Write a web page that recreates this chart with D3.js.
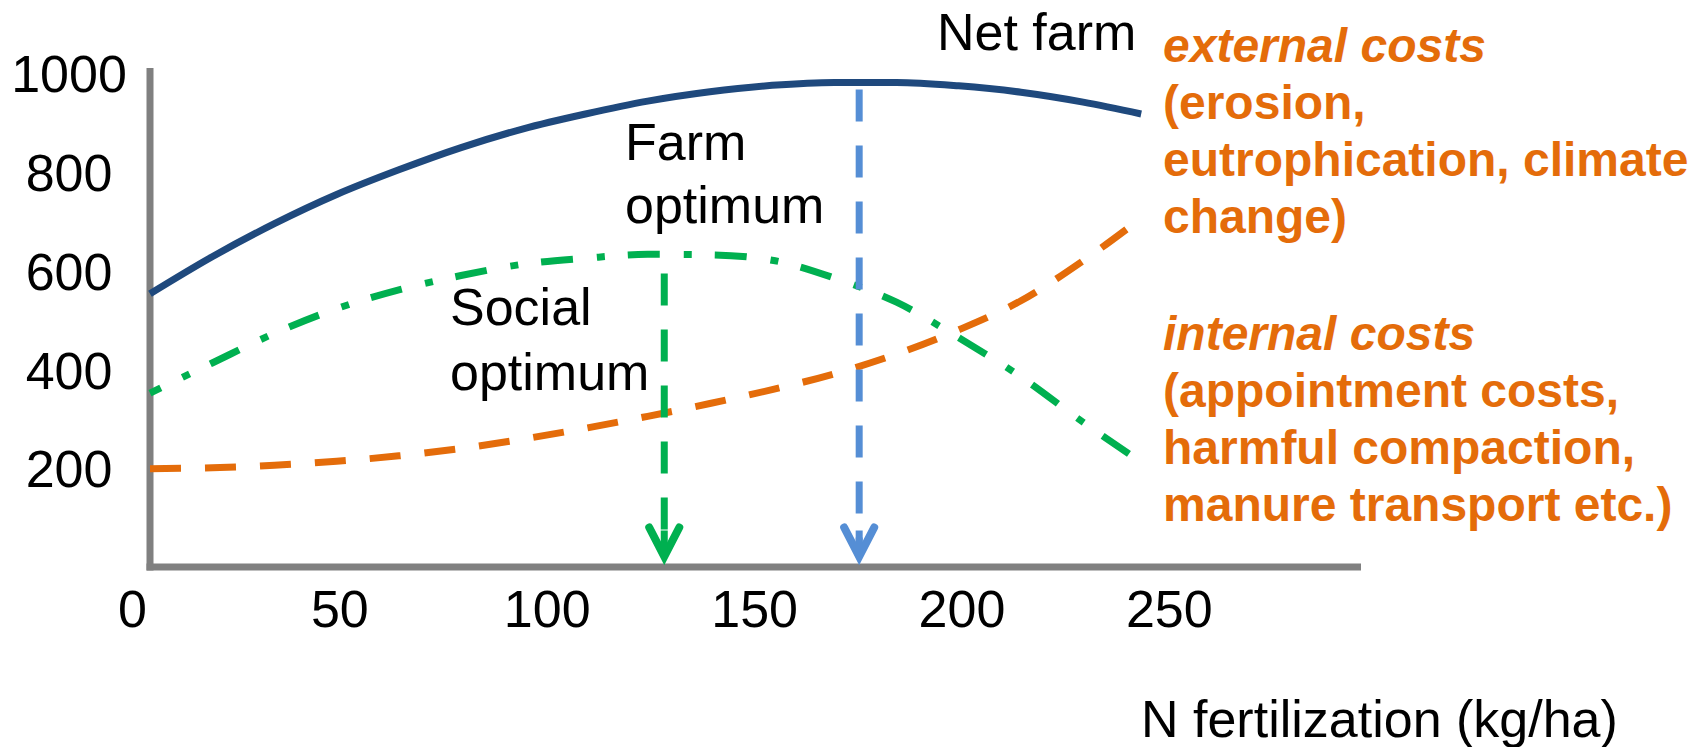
<!DOCTYPE html>
<html>
<head>
<meta charset="utf-8">
<script src="https://cdn.jsdelivr.net/npm/d3@7"></script>
<style>
  html, body { margin: 0; padding: 0; background: #ffffff; }
  svg { display: block; font-family: "Liberation Sans", Arial, Helvetica, sans-serif; }
</style>
</head>
<body>
<svg id="chart" width="1701" height="747"></svg>
<script>
// N application rates (kg/ha) at which the curves are sampled
const nRates = [0, 15, 30, 45, 60, 75, 90, 105, 120, 135, 150, 165, 180, 195, 210, 225, 239];
// Net farm return
const netFarm = [553, 628, 695, 754, 804, 849, 887, 917, 943, 962, 975, 981, 981, 974, 961, 941, 917];
// Net return once external costs are deducted
const socialNet = [352, 413, 473, 523, 561, 590, 613, 625, 633, 632, 621, 585, 536, 464, 385, 293, 212];
// Internal costs
const internalCosts = [199, 201, 206, 214, 225, 240, 259, 281, 305, 331, 359, 391, 431, 480, 539, 620, 706];

// Axis ticks
const xTicks = [0, 50, 100, 150, 200, 250];
const yTicks = [200, 400, 600, 800, 1000];

// N rates of the two optima
const socialOptimumN = 124;
const farmOptimumN = 171;

// Text blocks
const externalLines = ["external costs", "(erosion,", "eutrophication, climate", "change)"];
const internalLines = ["internal costs", "(appointment costs,", "harmful compaction,", "manure transport etc.)"];

const COLORS = {
  axis: "#808080",
  farm: "#1F497D",
  social: "#00B050",
  costs: "#E46C0A",
  farmOpt: "#558ED5",
  text: "#000000"
};

const svg = d3.select("#chart");

const x = d3.scaleLinear().domain([0, 292]).range([150, 1361]);
const y = d3.scaleLinear().domain([0, 1000]).range([567, 73]);

const axisW = 7;

// ---- axes ----
svg.append("line")
  .attr("x1", x(0)).attr("x2", x(0))
  .attr("y1", y(0) + axisW / 2).attr("y2", y(1000) - 5)
  .attr("stroke", COLORS.axis).attr("stroke-width", axisW);

svg.append("line")
  .attr("x1", x(0) - axisW / 2).attr("x2", x(292))
  .attr("y1", y(0)).attr("y2", y(0))
  .attr("stroke", COLORS.axis).attr("stroke-width", axisW);

const xAxis = svg.append("g")
  .attr("transform", `translate(0,${y(0)})`)
  .call(d3.axisBottom(x).tickValues(xTicks).tickSize(0).tickPadding(23).tickFormat(d3.format("d")));
xAxis.select(".domain").remove();
xAxis.selectAll("text")
  .attr("x", -18)
  .attr("font-size", 52)
  .attr("font-family", "'Liberation Sans', Arial, sans-serif")
  .attr("fill", COLORS.text);

const yAxis = svg.append("g")
  .attr("transform", `translate(${x(0)},0)`)
  .call(d3.axisLeft(y).tickValues(yTicks).tickSize(0).tickFormat(d3.format("d")));
yAxis.select(".domain").remove();
yAxis.selectAll("text")
  .attr("x", -81)
  .attr("dy", "0.36em")
  .attr("text-anchor", "middle")
  .attr("font-size", 52)
  .attr("font-family", "'Liberation Sans', Arial, sans-serif")
  .attr("fill", COLORS.text);

// ---- curves ----
const line = d3.line()
  .x(d => x(d.n))
  .y(d => y(d.v))
  .curve(d3.curveMonotoneX);

const series = (vals) => nRates.map((n, i) => ({ n, v: vals[i] }));

svg.append("path")
  .datum(series(internalCosts))
  .attr("d", line)
  .attr("fill", "none")
  .attr("stroke", COLORS.costs)
  .attr("stroke-width", 7)
  .attr("stroke-dasharray", "31,24");

svg.append("path")
  .datum(series(socialNet))
  .attr("d", line)
  .attr("fill", "none")
  .attr("stroke", COLORS.social)
  .attr("stroke-width", 7)
  .attr("stroke-dasharray", "32,24,8,23")
  .attr("stroke-dashoffset", 20);

svg.append("path")
  .datum(series(netFarm))
  .attr("d", line)
  .attr("fill", "none")
  .attr("stroke", COLORS.farm)
  .attr("stroke-width", 7);

// ---- optimum markers ----
const socialAt = d3.scaleLinear().domain(nRates).range(socialNet);
const farmAt = d3.scaleLinear().domain(nRates).range(netFarm);

function optimumArrow(n, topValue, color, offset) {
  const xp = x(n);
  const tip = y(0) - axisW / 2 - 7;
  svg.append("line")
    .attr("x1", xp).attr("x2", xp)
    .attr("y1", y(topValue)).attr("y2", tip)
    .attr("stroke", color).attr("stroke-width", 7)
    .attr("stroke-dasharray", "32,24")
    .attr("stroke-dashoffset", offset);
  svg.append("path")
    .attr("d", `M${xp - 15},${tip - 29}L${xp},${tip}L${xp + 15},${tip - 29}`)
    .attr("fill", "none")
    .attr("stroke", color)
    .attr("stroke-width", 8)
    .attr("stroke-linecap", "round")
    .attr("stroke-linejoin", "miter");
  svg.append("line")
    .attr("x1", xp).attr("x2", xp)
    .attr("y1", tip - 26).attr("y2", tip)
    .attr("stroke", color).attr("stroke-width", 7);
}

optimumArrow(socialOptimumN, socialAt(socialOptimumN), COLORS.social, 37);
optimumArrow(farmOptimumN, farmAt(farmOptimumN), COLORS.farmOpt, 49);

// ---- annotations ----
const label = (txt, xp, yp, opts = {}) => svg.append("text")
  .attr("x", xp).attr("y", yp)
  .attr("font-size", opts.size || 52)
  .attr("font-weight", opts.weight || "normal")
  .attr("font-style", opts.style || "normal")
  .attr("fill", opts.color || COLORS.text)
  .text(txt);

label("Net farm", 937, 50);
label("Farm", 625, 160);
label("optimum", 625, 223);
label("Social", 450, 325);
label("optimum", 450, 390);
label("N fertilization (kg/ha)", 1141, 737);

externalLines.forEach((t, i) => label(t, 1163, 62 + i * 57, {
  size: 48, weight: "bold", style: i === 0 ? "italic" : "normal", color: COLORS.costs
}));
internalLines.forEach((t, i) => label(t, 1163, 350 + i * 57, {
  size: 48, weight: "bold", style: i === 0 ? "italic" : "normal", color: COLORS.costs
}));
</script>
</body>
</html>
